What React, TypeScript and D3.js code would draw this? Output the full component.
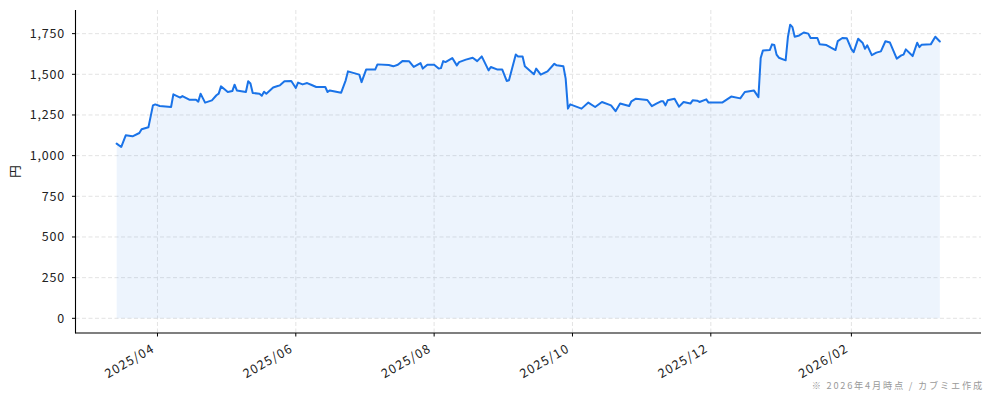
import React from "react";
import * as d3 from "d3";

const dates = [
  "2025-03-14", "2025-03-16", "2025-03-18", "2025-03-21", "2025-03-24", "2025-03-25", "2025-03-28", "2025-03-30", "2025-03-31",
  "2025-04-02", "2025-04-07", "2025-04-08", "2025-04-11", "2025-04-12", "2025-04-15", "2025-04-18", "2025-04-19", "2025-04-20", "2025-04-22", "2025-04-25", "2025-04-27", "2025-04-28", "2025-04-29",
  "2025-05-02", "2025-05-04", "2025-05-05", "2025-05-06", "2025-05-10", "2025-05-11", "2025-05-12", "2025-05-13", "2025-05-16", "2025-05-17", "2025-05-18", "2025-05-19", "2025-05-22", "2025-05-24", "2025-05-25", "2025-05-27", "2025-05-30",
  "2025-06-01", "2025-06-02", "2025-06-04", "2025-06-06", "2025-06-08", "2025-06-10", "2025-06-14", "2025-06-15", "2025-06-16", "2025-06-21", "2025-06-23", "2025-06-24", "2025-06-29", "2025-06-30",
  "2025-07-02", "2025-07-06", "2025-07-07", "2025-07-12", "2025-07-14", "2025-07-16", "2025-07-18", "2025-07-21", "2025-07-23", "2025-07-26", "2025-07-27", "2025-07-29",
  "2025-08-01", "2025-08-03", "2025-08-04", "2025-08-05", "2025-08-06", "2025-08-09", "2025-08-11", "2025-08-12", "2025-08-15", "2025-08-18", "2025-08-20", "2025-08-22", "2025-08-25", "2025-08-26", "2025-08-29", "2025-08-31",
  "2025-09-02", "2025-09-03", "2025-09-06", "2025-09-07", "2025-09-09", "2025-09-10", "2025-09-14", "2025-09-15", "2025-09-17", "2025-09-20", "2025-09-23", "2025-09-24", "2025-09-27", "2025-09-28", "2025-09-29", "2025-09-30",
  "2025-10-05", "2025-10-08", "2025-10-11", "2025-10-14", "2025-10-18", "2025-10-20", "2025-10-22", "2025-10-26", "2025-10-27", "2025-10-29",
  "2025-11-03", "2025-11-05", "2025-11-07", "2025-11-09", "2025-11-10", "2025-11-11", "2025-11-12", "2025-11-15", "2025-11-17", "2025-11-19", "2025-11-22", "2025-11-23", "2025-11-25", "2025-11-26", "2025-11-29", "2025-11-30",
  "2025-12-06", "2025-12-10", "2025-12-14", "2025-12-16", "2025-12-20", "2025-12-22", "2025-12-23", "2025-12-24", "2025-12-27", "2025-12-28", "2025-12-29", "2025-12-30", "2025-12-31",
  "2026-01-03", "2026-01-04", "2026-01-05", "2026-01-06", "2026-01-07", "2026-01-09", "2026-01-11", "2026-01-13", "2026-01-14", "2026-01-17", "2026-01-18", "2026-01-21", "2026-01-23", "2026-01-25", "2026-01-26", "2026-01-28", "2026-01-30",
  "2026-02-01", "2026-02-02", "2026-02-04", "2026-02-06", "2026-02-07", "2026-02-08", "2026-02-10", "2026-02-12", "2026-02-14", "2026-02-16", "2026-02-18", "2026-02-21", "2026-02-23", "2026-02-24", "2026-02-25", "2026-02-28",
  "2026-03-02", "2026-03-03", "2026-03-04", "2026-03-08", "2026-03-10", "2026-03-12",
];

const prices = [
  1074, 1053, 1125, 1119, 1139, 1162, 1174, 1309, 1315,
  1305, 1299, 1377, 1357, 1366, 1344, 1344, 1332, 1381, 1326, 1340, 1371, 1381, 1426,
  1391, 1397, 1436, 1401, 1391, 1457, 1443, 1385, 1381, 1368, 1393, 1381, 1419, 1428, 1432, 1457, 1459,
  1416, 1449, 1438, 1446, 1434, 1422, 1422, 1391, 1401, 1387, 1463, 1518, 1498, 1452,
  1529, 1529, 1561, 1557, 1549, 1559, 1581, 1580, 1545, 1569, 1535, 1559,
  1559, 1535, 1538, 1581, 1575, 1600, 1555, 1575, 1590, 1602, 1581, 1610, 1524, 1545, 1529, 1530,
  1459, 1463, 1622, 1610, 1610, 1549, 1500, 1535, 1498, 1518, 1565, 1555, 1549, 1473, 1289, 1315,
  1289, 1326, 1299, 1330, 1309, 1273, 1320, 1305, 1334, 1350,
  1342, 1304, 1320, 1334, 1334, 1309, 1340, 1350, 1301, 1330, 1320, 1340, 1338, 1330, 1346, 1326,
  1326, 1363, 1352, 1391, 1401, 1360, 1600, 1647, 1649, 1684, 1680, 1621, 1602,
  1586, 1729, 1805, 1790, 1731, 1739, 1757, 1750, 1723, 1723, 1685, 1680, 1664, 1649, 1704, 1723, 1721,
  1655, 1636, 1719, 1692, 1657, 1678, 1618, 1633, 1641, 1703, 1695, 1596, 1616, 1621, 1653, 1612,
  1694, 1667, 1682, 1684, 1731, 1702,
];

const yTicks = [0, 250, 500, 750, 1000, 1250, 1500, 1750];
const xTickDates = ["2025-04-01", "2025-06-01", "2025-08-01", "2025-10-01", "2025-12-01", "2026-02-01"];
const yLabel = "円";
const note = "※ 2026年4月時点 / カブミエ作成";

const W = 994;
const H = 401;
const plot = { left: 75.5, right: 981, top: 10, bottom: 333 };
const font = "'Noto Sans CJK JP', 'Noto Sans', sans-serif";
const lineColor = "#1a73e8";

interface Point {
  date: Date;
  value: number;
}

export default function App() {
  const parse = d3.timeParse("%Y-%m-%d");
  const data: Point[] = dates.map((d, i) => ({ date: parse(d) as Date, value: prices[i] }));

  // matplotlib style 5% margins
  const [t0, t1] = d3.extent(data, (d) => d.date) as [Date, Date];
  const span = +t1 - +t0;
  const x = d3
    .scaleTime()
    .domain([new Date(+t0 - span * 0.05), new Date(+t1 + span * 0.05)])
    .range([plot.left, plot.right]);

  const yMax = d3.max(prices) as number;
  const y = d3
    .scaleLinear()
    .domain([-yMax * 0.05, yMax * 1.05])
    .range([plot.bottom, plot.top]);

  const line = d3
    .line<Point>()
    .x((d) => x(d.date))
    .y((d) => y(d.value));
  const area = d3
    .area<Point>()
    .x((d) => x(d.date))
    .y0(y(0))
    .y1((d) => y(d.value));

  const fmtY = d3.format(",");
  const fmtX = d3.timeFormat("%Y/%m");
  const xTicks = xTickDates.map((d) => parse(d) as Date);

  return (
    <svg
      width={W}
      height={H}
      style={{ position: "absolute", left: 0, top: 0, background: "#fff" }}
      fontFamily={font}
    >
      <g>
        {yTicks.map((t) => (
          <line
            key={`gy${t}`}
            x1={plot.left}
            x2={plot.right}
            y1={y(t)}
            y2={y(t)}
            stroke="#dcdcdc"
            strokeWidth={0.8}
            strokeDasharray="4 2.5"
          />
        ))}
        {xTicks.map((t, i) => (
          <line
            key={`gx${i}`}
            x1={x(t)}
            x2={x(t)}
            y1={plot.top}
            y2={plot.bottom}
            stroke="#dcdcdc"
            strokeWidth={0.8}
            strokeDasharray="4 2.5"
          />
        ))}
      </g>

      <path d={area(data) ?? ""} fill={lineColor} fillOpacity={0.08} />
      <path
        d={line(data) ?? ""}
        fill="none"
        stroke={lineColor}
        strokeWidth={2}
        strokeLinejoin="round"
        strokeLinecap="round"
      />

      {/* spines */}
      <line x1={plot.left} x2={plot.left} y1={plot.top} y2={plot.bottom + 0.5} stroke="#000" strokeWidth={1.1} />
      <line x1={plot.left} x2={plot.right} y1={plot.bottom} y2={plot.bottom} stroke="#000" strokeWidth={1.1} />

      {yTicks.map((t) => (
        <g key={`ty${t}`} transform={`translate(0,${y(t)})`}>
          <line x1={plot.left - 3.5} x2={plot.left} stroke="#000" strokeWidth={1} />
          <text
            x={65}
            dy="0.36em"
            textAnchor="end"
            fontSize={12.5}
            letterSpacing={0.8}
            fill="#222"
          >
            {fmtY(t)}
          </text>
        </g>
      ))}

      {xTicks.map((t, i) => (
        <g key={`tx${i}`} transform={`translate(${x(t)},${plot.bottom})`}>
          <line y1={0} y2={3.5} stroke="#000" strokeWidth={1} />
          <text
            transform="translate(-2,18) rotate(-30)"
            textAnchor="end"
            fontSize={12.5}
            letterSpacing={1.2}
            fill="#222"
          >
            {fmtX(t)}
          </text>
        </g>
      ))}

      <text
        transform={`translate(20,${(plot.top + plot.bottom) / 2}) rotate(-90)`}
        textAnchor="middle"
        fontSize={12.5}
        fill="#222"
      >
        {yLabel}
      </text>

      <text x={984} y={389} textAnchor="end" fontSize={9.2} letterSpacing={1.8} fill="#9a9a9a">
        {note}
      </text>
    </svg>
  );
}
